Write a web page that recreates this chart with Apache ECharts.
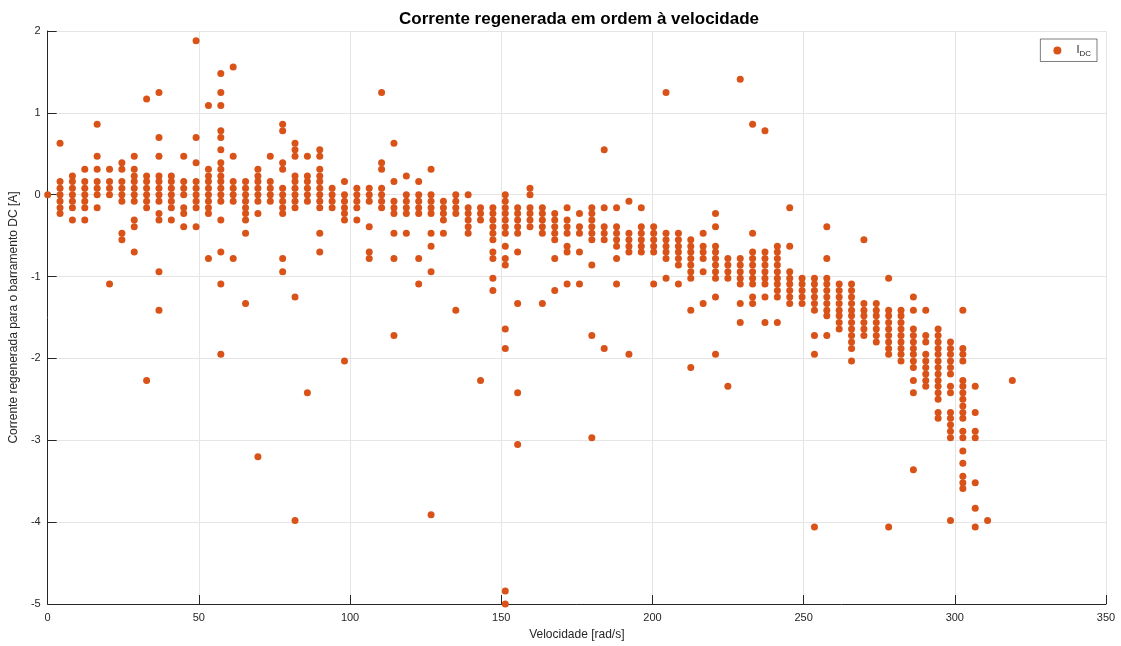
<!DOCTYPE html>
<html>
<head>
<meta charset="utf-8">
<script src="https://cdn.jsdelivr.net/npm/echarts@6/dist/echarts.min.js"></script>
<style>
  html, body { margin: 0; padding: 0; background: #fff; }
  #chart { width: 1121px; height: 646px; }
</style>
</head>
<body>
<div id="chart"></div>
<script>
// velocidade de cada coluna de pontos [rad/s]
const velocidade = [0, 4.09, 8.18, 12.27, 16.36, 20.45, 24.54, 28.63, 32.72, 36.81,
  40.90, 44.99, 49.08, 53.17, 57.26, 61.35, 65.44, 69.53, 73.62, 77.71,
  81.80, 85.89, 89.98, 94.07, 98.16, 102.25, 106.34, 110.43, 114.52, 118.61,
  122.70, 126.79, 130.88, 134.97, 139.06, 143.15, 147.24, 151.33, 155.42, 159.51,
  163.60, 167.69, 171.78, 175.87, 179.96, 184.05, 188.14, 192.23, 196.32, 200.41,
  204.50, 208.59, 212.68, 216.77, 220.86, 224.95, 229.04, 233.13, 237.22, 241.31,
  245.40, 249.49, 253.58, 257.67, 261.76, 265.85, 269.94, 274.03, 278.12, 282.21,
  286.30, 290.39, 294.48, 298.57, 302.66, 306.75, 310.84, 319.02]

// corrente regenerada medida em cada velocidade [A]
const corrente = [
  [0],
  [0.63, 0.16, 0.08, 0, -0.08, -0.16, -0.23],
  [0.23, 0.16, 0.08, 0, -0.08, -0.16, -0.31],
  [0.31, 0.16, 0.08, 0, -0.08, -0.16, -0.31],
  [0.86, 0.47, 0.31, 0.16, 0.08, 0, -0.16],
  [0.31, 0.16, 0.08, 0, -1.09],
  [0.39, 0.31, 0.16, 0.08, 0, -0.08, -0.47, -0.55],
  [0.47, 0.31, 0.23, 0.16, 0.08, 0, -0.08, -0.31, -0.39, -0.70],
  [1.17, 0.23, 0.16, 0.08, 0, -0.08, -0.16, -2.27],
  [1.25, 0.70, 0.47, 0.23, 0.16, 0.08, 0, -0.08, -0.23, -0.31, -0.94, -1.41],
  [0.23, 0.16, 0.08, 0, -0.08, -0.16, -0.31],
  [0.47, 0.16, 0.08, 0, -0.16, -0.23, -0.39],
  [1.88, 0.70, 0.39, 0.16, 0.08, 0, -0.08, -0.16, -0.39],
  [1.09, 0.31, 0.23, 0.16, 0.08, 0, -0.08, -0.16, -0.23, -0.78],
  [1.48, 1.25, 1.09, 0.78, 0.70, 0.55, 0.39, 0.31, 0.23, 0.16, 0.08, 0, -0.08, -0.31, -0.70, -1.09, -1.95],
  [1.56, 0.47, 0.16, 0.08, 0, -0.08, -0.78],
  [0.16, 0.08, 0, -0.08, -0.16, -0.23, -0.31, -0.47, -1.33],
  [0.31, 0.23, 0.16, 0.08, 0, -0.08, -0.23, -3.20],
  [0.47, 0.16, 0.08, 0, -0.08],
  [0.86, 0.78, 0.39, 0.31, 0.08, 0, -0.08, -0.16, -0.23, -0.78, -0.94],
  [0.63, 0.55, 0.47, 0.23, 0.16, 0.08, 0, -0.08, -0.16, -1.25, -3.98],
  [0.47, 0.23, 0.16, 0.08, 0, -0.08, -2.42],
  [0.55, 0.47, 0.31, 0.23, 0.16, 0.08, 0, -0.08, -0.16, -0.47, -0.70],
  [0.08, 0, -0.08, -0.16],
  [0.16, 0, -0.08, -0.16, -0.23, -0.31, -2.03],
  [0.08, 0, -0.08, -0.16, -0.31],
  [0.08, 0, -0.08, -0.39, -0.70, -0.78],
  [1.25, 0.39, 0.31, 0.08, 0, -0.08, -0.16],
  [0.63, 0.16, -0.08, -0.16, -0.23, -0.47, -0.78, -1.72],
  [0.23, 0, -0.08, -0.16, -0.23, -0.47],
  [0.16, 0, -0.08, -0.16, -0.23, -0.78, -1.09],
  [0.31, 0, -0.08, -0.16, -0.23, -0.47, -0.63, -0.94, -3.91],
  [-0.08, -0.16, -0.23, -0.31, -0.47],
  [0, -0.08, -0.16, -0.23, -1.41],
  [0, -0.16, -0.23, -0.31, -0.39, -0.47],
  [-0.16, -0.23, -0.31, -2.27],
  [-0.16, -0.23, -0.31, -0.39, -0.47, -0.55, -0.70, -0.78, -1.02, -1.17],
  [0, -0.08, -0.16, -0.23, -0.31, -0.39, -0.47, -0.63, -0.78, -0.86, -1.64, -1.88, -4.84, -5.00],
  [-0.16, -0.23, -0.31, -0.39, -0.47, -0.70, -1.33, -2.42, -3.05],
  [0.08, 0, -0.16, -0.23, -0.31, -0.39],
  [-0.16, -0.23, -0.31, -0.39, -0.47, -1.33],
  [-0.23, -0.31, -0.39, -0.47, -0.55, -0.78, -1.17],
  [-0.16, -0.31, -0.39, -0.47, -0.63, -0.70, -1.09],
  [-0.23, -0.39, -0.47, -0.70, -1.09],
  [-0.16, -0.23, -0.31, -0.39, -0.47, -0.55, -0.86, -1.72, -2.97],
  [0.55, -0.16, -0.39, -0.47, -0.55, -1.88],
  [-0.16, -0.39, -0.47, -0.55, -0.63, -0.78, -1.09],
  [-0.08, -0.47, -0.55, -0.63, -0.70, -1.95],
  [-0.16, -0.39, -0.47, -0.55, -0.63, -0.70],
  [-0.39, -0.47, -0.55, -0.63, -0.70, -1.09],
  [1.25, -0.47, -0.55, -0.63, -0.70, -0.78, -1.02],
  [-0.47, -0.55, -0.63, -0.70, -0.78, -0.86, -1.09],
  [-0.55, -0.63, -0.70, -0.78, -0.86, -0.94, -1.02, -1.41, -2.11],
  [-0.47, -0.63, -0.70, -0.78, -0.94, -1.33],
  [-0.23, -0.39, -0.63, -0.70, -0.78, -0.86, -0.94, -1.02, -1.25, -1.95],
  [-0.78, -0.86, -0.94, -1.02, -2.34],
  [1.41, -0.78, -0.86, -0.94, -1.02, -1.09, -1.33, -1.56],
  [0.86, -0.47, -0.70, -0.78, -0.86, -0.94, -1.02, -1.09, -1.25, -1.33],
  [0.78, -0.70, -0.78, -0.86, -0.94, -1.02, -1.09, -1.25, -1.56],
  [-0.63, -0.70, -0.78, -0.86, -0.94, -1.02, -1.09, -1.17, -1.25, -1.56],
  [-0.16, -0.63, -0.94, -1.02, -1.09, -1.17, -1.25, -1.33],
  [-1.02, -1.09, -1.17, -1.25, -1.33],
  [-1.02, -1.09, -1.17, -1.25, -1.33, -1.41, -1.72, -1.95, -4.06],
  [-0.39, -0.78, -1.02, -1.09, -1.17, -1.25, -1.33, -1.41, -1.48, -1.72],
  [-1.09, -1.17, -1.25, -1.33, -1.41, -1.48, -1.56, -1.64],
  [-1.09, -1.17, -1.25, -1.33, -1.41, -1.48, -1.56, -1.64, -1.72, -1.80, -1.88, -2.03],
  [-0.55, -1.33, -1.41, -1.48, -1.56, -1.64, -1.72],
  [-1.33, -1.41, -1.48, -1.56, -1.64, -1.72, -1.80],
  [-1.02, -1.41, -1.48, -1.56, -1.64, -1.72, -1.80, -1.88, -1.95, -4.06],
  [-1.41, -1.48, -1.56, -1.64, -1.72, -1.80, -1.88, -1.95, -2.03],
  [-1.25, -1.41, -1.64, -1.72, -1.80, -1.88, -1.95, -2.03, -2.11, -2.27, -2.42, -3.36],
  [-1.41, -1.72, -1.80, -1.95, -2.03, -2.11, -2.19, -2.27, -2.34],
  [-1.64, -1.72, -1.80, -1.88, -1.95, -2.03, -2.11, -2.19, -2.27, -2.34, -2.42, -2.50, -2.66, -2.73],
  [-1.80, -1.88, -1.95, -2.03, -2.11, -2.19, -2.34, -2.42, -2.66, -2.73, -2.81, -2.89, -2.97, -3.98],
  [-1.41, -1.88, -1.95, -2.03, -2.27, -2.34, -2.42, -2.50, -2.58, -2.66, -2.73, -2.89, -2.97, -3.13, -3.28, -3.44, -3.52, -3.59],
  [-2.34, -2.66, -2.89, -2.97, -3.52, -3.83, -4.06],
  [-3.98],
  [-2.27]
]

const xTicks = [0, 50, 100, 150, 200, 250, 300, 350]
const yTicks = [-5, -4, -3, -2, -1, 0, 1, 2]

// pares [velocidade, corrente] para o scatter
let pontos = []
velocidade.forEach((v, i) => {
  for (let c of corrente[i]) {
    pontos.push([v, c])
  }
})

const eixoCor = '#262626'
const font = 'Liberation Sans, Arial, sans-serif'

let myChart = echarts.init(document.getElementById('chart'))
myChart.setOption({
  backgroundColor: '#fff',
  animation: false,
  title: {
    text: 'Corrente regenerada em ordem à velocidade',
    left: 574,
    textAlign: 'center',
    top: 6,
    textStyle: { fontFamily: font, fontSize: 17, fontWeight: 'bold', color: '#000' }
  },
  legend: {
    right: 24,
    top: 39,
    data: ['IDC'],
    icon: 'circle',
    itemWidth: 8,
    itemHeight: 8,
    itemGap: 0,
    padding: [5, 6, 4, 13],
    borderColor: eixoCor,
    borderWidth: 0.6,
    backgroundColor: '#fff',
    formatter: () => '{i|I}{s|DC}',
    textStyle: {
      fontFamily: font,
      color: eixoCor,
      rich: {
        i: { fontSize: 11, fontFamily: font, color: eixoCor, padding: [0, 0, 2, 10] },
        s: { fontSize: 8, fontFamily: font, color: eixoCor, padding: [6, 0, 0, 0] }
      }
    }
  },
  grid: { left: 42, right: 15, top: 31, bottom: 41, containLabel: false },
  xAxis: {
    type: 'value',
    min: xTicks[0],
    max: xTicks[xTicks.length - 1],
    interval: 50,
    name: 'Velocidade [rad/s]',
    nameLocation: 'middle',
    nameGap: 25,
    nameTextStyle: { fontFamily: font, fontSize: 12, color: eixoCor },
    axisLine: { onZero: false, lineStyle: { color: eixoCor, width: 1 } },
    axisTick: { inside: true, length: 9, lineStyle: { color: eixoCor } },
    axisLabel: { fontFamily: font, fontSize: 11, color: eixoCor, margin: 8 },
    splitLine: { show: true, lineStyle: { color: '#e5e5e5', width: 1 } }
  },
  yAxis: {
    type: 'value',
    min: yTicks[0],
    max: yTicks[yTicks.length - 1],
    interval: 1,
    name: 'Corrente regenerada para o barramento DC [A]',
    nameLocation: 'middle',
    nameGap: 21,
    nameTextStyle: { fontFamily: font, fontSize: 12, color: eixoCor },
    axisLine: { onZero: false, lineStyle: { color: eixoCor, width: 1 } },
    axisTick: { inside: true, length: 9, lineStyle: { color: eixoCor } },
    axisLabel: { fontFamily: font, fontSize: 11, color: eixoCor, margin: 7 },
    splitLine: { show: true, lineStyle: { color: '#e5e5e5', width: 1 } }
  },
  series: [{
    name: 'IDC',
    type: 'scatter',
    data: pontos,
    symbol: 'circle',
    symbolSize: 7,
    itemStyle: { color: '#D95319', opacity: 1 }
  }]
})
</script>
</body>
</html>
